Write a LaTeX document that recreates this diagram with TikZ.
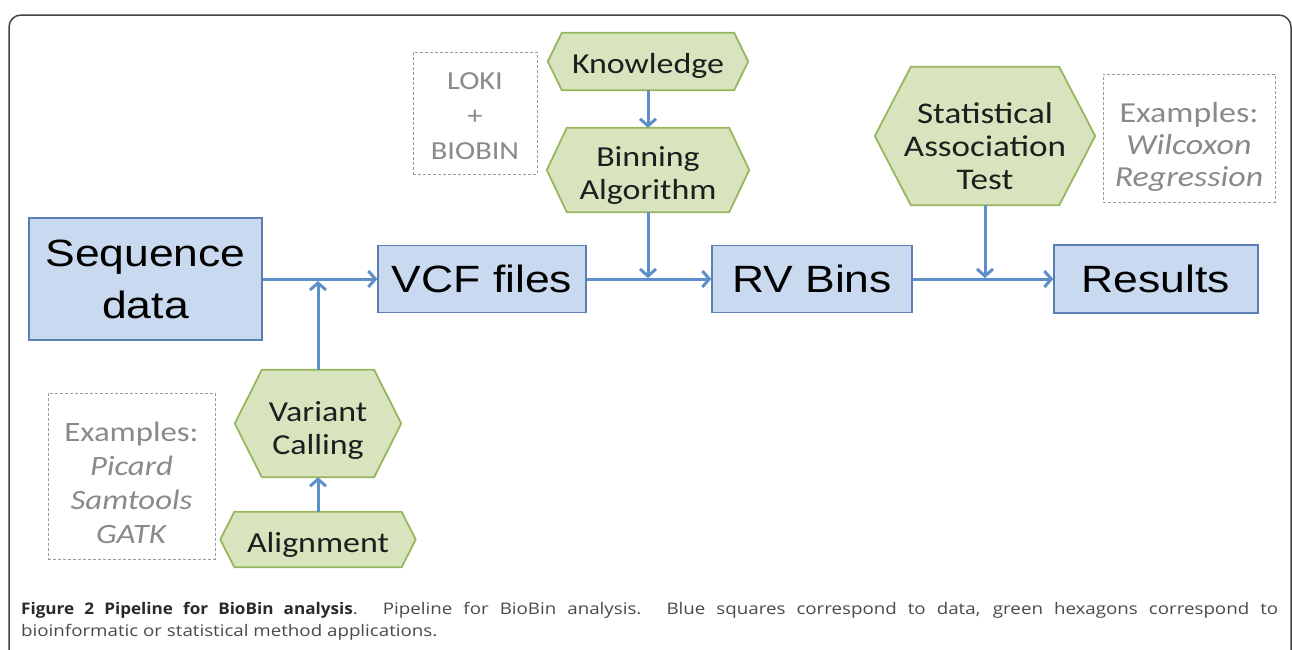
\documentclass[tikz,border=0pt]{standalone}
\usepackage{fontspec}
\usetikzlibrary{arrows.meta,backgrounds}

% Fonts: sans labels, humanist hexagon labels, caption faces
\newfontfamily\boxfont[FakeStretch=1.17]{Liberation Sans}
\newfontfamily\hexfont[FakeStretch=1.17]{Carlito}
\newfontfamily\capfont[FakeStretch=1.17]{Open Sans}
\newfontfamily\capboldfont[FakeStretch=1.07]{Open Sans}

\definecolor{boxfill}{HTML}{C9DAF0}
\definecolor{boxedge}{HTML}{5B7FB4}
\definecolor{hexfill}{HTML}{D7E4BD}
\definecolor{hexedge}{HTML}{98B65E}
\definecolor{hextext}{HTML}{1E1E1E}
\definecolor{flowblue}{HTML}{5E8FC8}
\definecolor{notegray}{HTML}{9A9A9A}
\definecolor{notetext}{HTML}{8A8A8A}
\definecolor{framegray}{HTML}{444444}
\definecolor{capdark}{HTML}{2A2A2A}
\definecolor{capgray}{HTML}{4A4A4A}

\tikzset{
  databox/.style={draw=boxedge, fill=boxfill, line width=1.3pt, inner sep=0pt,
    align=center, text=black, font=\boxfont\fontsize{38}{52}\selectfont},
  hexnode/.style={inner sep=0pt},
  hexlabel/.style={inner sep=0pt, align=center, text=hextext,
    font=\hexfont\fontsize{29}{33}\selectfont},
  hexshape/.style={draw=hexedge, fill=hexfill, line width=1.8pt, line join=round},
  notebox/.style={draw=notegray, dash pattern=on 3pt off 2pt, line width=1pt,
    inner sep=0pt},
  notelabel/.style={inner sep=0pt, align=center, text=notetext},
  flow/.style={draw=flowblue, line width=3pt,
    -{Straight Barb[length=7pt,width=16pt]}},
  framestyle/.style={draw=framegray, line width=1.5pt, rounded corners=12pt},
  captext/.style={anchor=base west, inner sep=0pt, text=capgray,
    font=\capfont\fontsize{16}{22}\selectfont},
}

% Hexagon outline around a named node: #1 node, #2 tip inset
\newcommand{\hexaround}[2]{%
  \path[hexshape] (#1.west) -- ([xshift=#2pt]#1.north west)
    -- ([xshift=-#2pt]#1.north east) -- (#1.east)
    -- ([xshift=-#2pt]#1.south east) -- ([xshift=#2pt]#1.south west) -- cycle;}

\begin{document}
\begin{tikzpicture}[x=1pt,y=-1pt]
  \useasboundingbox (0,0) rectangle (1292,649);
  \clip (0,0) rectangle (1292,649);

  % outer panel frame
  \draw[framestyle] (9,680) -- (9,15) -- (1291,15) -- (1291,680);

  % data boxes
  \node[databox, minimum width=233pt, minimum height=122pt] (seq) at (145.5,279) {Sequence\\data};
  \node[databox, minimum width=208pt, minimum height=67pt] (vcf) at (482,279) {VCF files};
  \node[databox, minimum width=200pt, minimum height=67pt] (rv) at (812,279) {RV Bins};
  \node[databox, minimum width=204pt, minimum height=68pt] (res) at (1156,279) {Results};

  % method hexagons (outline added below, label set slightly low)
  \node[hexnode, minimum width=200pt, minimum height=57pt,
        label={[hexlabel, yshift=-4pt]center:Knowledge}] (know) at (648,61.5) {};
  \node[hexnode, minimum width=202pt, minimum height=84pt,
        label={[hexlabel, yshift=-6pt]center:{Binning\\Algorithm}}] (bin) at (648,170) {};
  \node[hexnode, minimum width=220pt, minimum height=138pt,
        label={[hexlabel, yshift=-10pt, font=\hexfont\fontsize{30}{33}\selectfont]center:{Statistical\\Association\\Test}}] (stat) at (985,136) {};
  \node[hexnode, minimum width=166pt, minimum height=107pt,
        label={[hexlabel, yshift=-7pt]center:{Variant\\Calling}}] (var) at (318,423.5) {};
  \node[hexnode, minimum width=195pt, minimum height=55pt,
        label={[hexlabel, yshift=-5pt]center:Alignment}] (aln) at (318,539.5) {};

  \begin{pgfonlayer}{background}
    \fill[white] (0,0) rectangle (1292,649);
    \hexaround{know}{14}
    \hexaround{bin}{20}
    \hexaround{stat}{36}
    \hexaround{var}{27}
    \hexaround{aln}{14}
  \end{pgfonlayer}

  % example / tool notes
  \node[notebox, minimum width=124pt, minimum height=122pt,
        label={[notelabel, yshift=-3pt, font=\hexfont\fontsize{26}{35}\selectfont]center:{LOKI\\+\\BIOBIN}}] (loki) at (475,113) {};
  \node[notebox, minimum width=172pt, minimum height=128pt,
        label={[notelabel, yshift=-9pt, font=\hexfont\fontsize{29}{32}\selectfont]center:{Examples:\\\textit{Wilcoxon}\\\textit{Regression}}}] (exr) at (1189,138) {};
  \node[notebox, minimum width=167pt, minimum height=166pt,
        label={[notelabel, yshift=-7pt, font=\hexfont\fontsize{28}{34}\selectfont]center:{Examples:\\\textit{Picard}\\\textit{Samtools}\\\textit{GATK}}}] (exl) at (131.5,476) {};

  % junction points on the main line
  \coordinate (jv) at (318,281);
  \coordinate (jb) at (648,278);
  \coordinate (js) at (985,278);

  % connectors
  \draw[flow] (seq.east) -- (vcf.west);
  \draw[flow] (vcf.east) -- (rv.west);
  \draw[flow] (rv.east) -- (res.west);
  \draw[flow] (know.south) -- (bin.north);
  \draw[flow] (bin.south) -- (jb);
  \draw[flow] (stat.south) -- (js);
  \draw[flow] (var.north) -- (jv);
  \draw[flow] (aln.north) -- (var.south);

  % caption
  \node[captext] (cap1) at (21,614)
    {\makebox[1257pt][s]{\textcolor{capdark}{\capboldfont\bfseries Figure 2 Pipeline for BioBin analysis}. Pipeline for BioBin analysis. Blue squares correspond to data, green hexagons correspond to}};
  \node[captext] (cap2) at (21,636)
    {bioinformatic or statistical method applications.};
\end{tikzpicture}
\end{document}
